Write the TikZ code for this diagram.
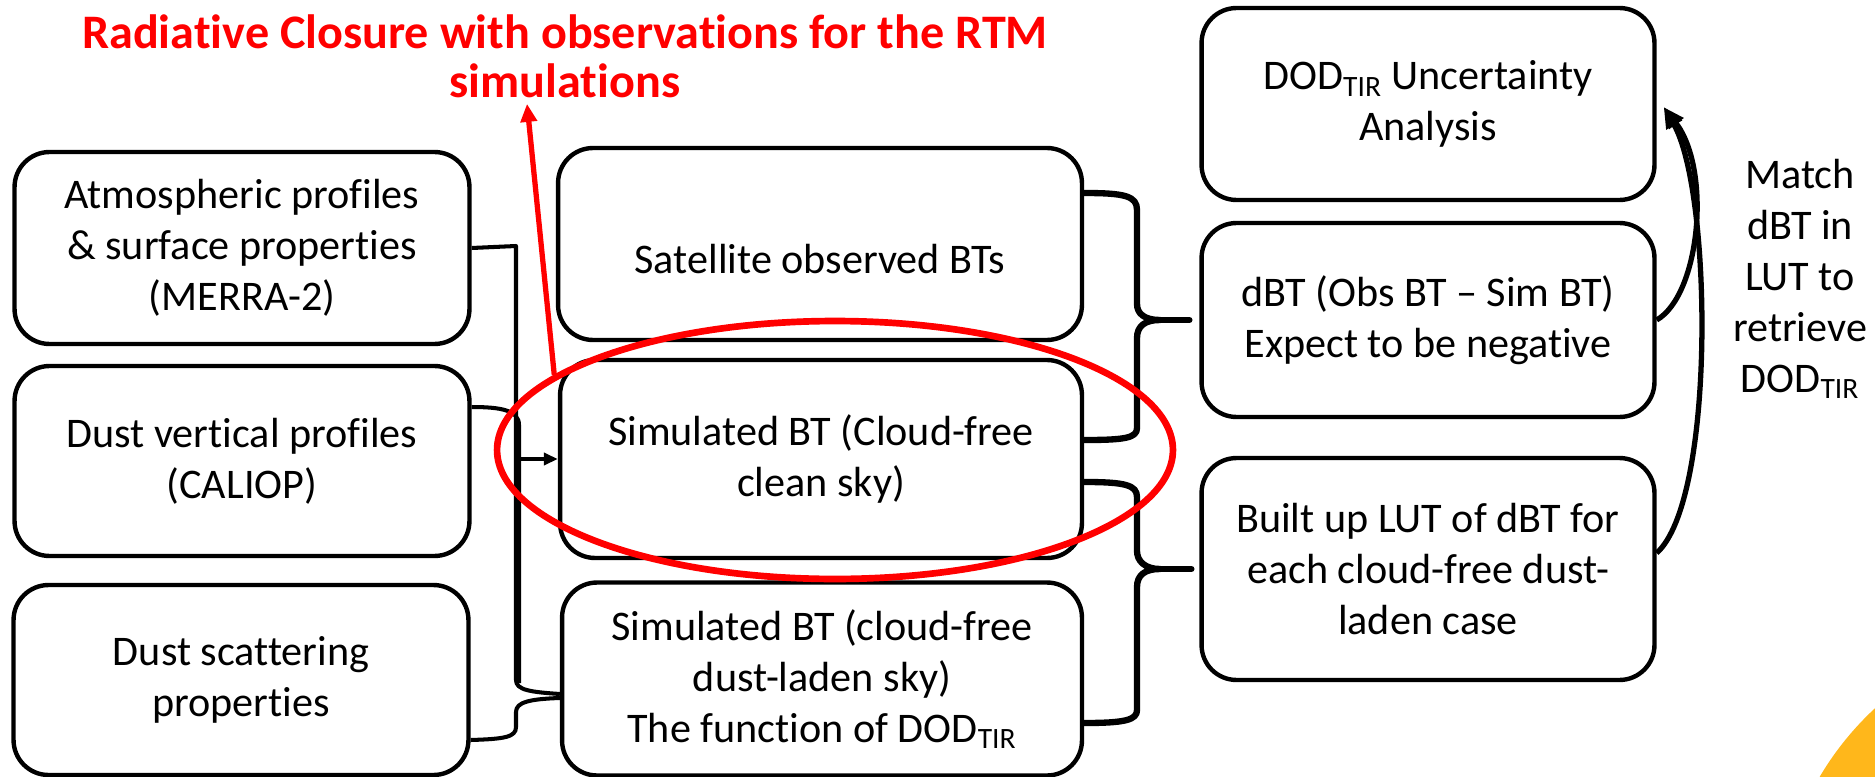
\documentclass[tikz,border=0pt]{standalone}
\usepackage{fontspec}
\setmainfont[Ligatures=NoCommon]{Carlito}
\usetikzlibrary{arrows.meta,shapes.geometric}
\definecolor{closurered}{HTML}{FF0000}
\definecolor{cornergold}{HTML}{FFB71B}

\tikzset{
  box/.style={draw, rounded corners=0.7cm, line width=2.5pt, align=center, inner sep=0pt},
  link/.style={line width=2.3pt, line join=round},
  brace/.style={line width=3.6pt, line join=round, line cap=round},
}

\begin{document}
\begin{tikzpicture}[x=0.02cm, y=-0.02cm, font={\fontsize{24}{29}\selectfont}]
  \useasboundingbox (0,0) rectangle (1875,777);
  \begin{scope}
    \clip (0,0) rectangle (1875,777);
    \fill[cornergold] (2080,930) circle[radius=302];
  \end{scope}

  % title
  \node[text=closurered, align=center, font={\bfseries\fontsize{27.4}{28}\selectfont}] (title) at (565,56)
    {Radiative Closure with observations for the RTM\\simulations};

  % inputs
  \node[box, minimum width=9.1cm, minimum height=3.84cm] (atm) at (242,248)
    {Atmospheric profiles\\\& surface properties\\(MERRA-2)};
  \node[box, minimum width=9.1cm, minimum height=3.8cm] (dvp) at (242,461)
    {Dust vertical profiles\\(CALIOP)};
  \node[box, minimum width=9.1cm, minimum height=3.8cm] (dsp) at (241,680)
    {Dust scattering\\properties};

  % brightness temperatures
  \node[box, minimum width=10.48cm, minimum height=3.84cm] (obs) at (820,244)
    {\rule{0pt}{1.2cm}Satellite observed BTs};
  \node[box, minimum width=10.44cm, minimum height=3.96cm] (clean) at (821,459)
    {Simulated BT (Cloud-free\\clean sky)};
  \node[box, minimum width=10.4cm, minimum height=3.86cm] (dusty) at (822,679)
    {Simulated BT (cloud-free\\dust-laden sky)\\The function of DOD\textsubscript{TIR}};

  % retrieval
  \node[box, minimum width=9.06cm, minimum height=3.84cm] (unc) at (1428,104)
    {DOD\textsubscript{TIR} Uncertainty\\Analysis};
  \node[box, minimum width=9.06cm, minimum height=3.88cm] (dbt) at (1428,320)
    {dBT (Obs BT -- Sim BT)\\Expect to be negative};
  \node[box, minimum width=9.06cm, minimum height=4.44cm] (lut) at (1428,569)
    {Built up LUT of dBT for\\each cloud-free dust-\\laden case};
  \node[align=center] (match) at (1800,279)
    {Match\\dBT in\\LUT to\\retrieve\\DOD\textsubscript{TIR}};

  % inputs into the RTM
  \coordinate (trunk) at (516,246);
  \draw[link] (atm.east) -- (trunk) -- (516,680)
    .. controls (516,690) and (530,692) .. ([yshift=-0.3cm]dusty.west);
  \draw[link] ([yshift=1.08cm]dvp.east) .. controls (500,407) and (519,410) .. (519,425) -- (519,683);
  \draw[link] ([yshift=-1.2cm]dsp.east) .. controls (505,739) and (516,737) .. (516,727) -- (516,712)
    .. controls (516,702) and (530,699) .. ([yshift=-0.38cm]dusty.west);
  \draw[link, -{Triangle[length=0.28cm,width=0.24cm]}] (clean.west -| trunk) -- (clean.west);

  % braces into dBT and LUT
  \draw[brace] ([yshift=1.02cm]obs.east) .. controls (1125,193) and (1137,196) .. (1137,210) -- (1137,304)
    .. controls (1137,314) and (1145,320) .. (1160,320)
    .. controls (1145,320) and (1137,326) .. (1137,338) -- (1137,428)
    .. controls (1137,438) and (1125,440) .. ([yshift=0.38cm]clean.east);
  \draw[brace] (1160,320) -- ([xshift=-0.2cm]dbt.west);
  \draw[brace] ([yshift=-0.46cm]clean.east) .. controls (1125,482) and (1137,485) .. (1137,497) -- (1137,551)
    .. controls (1137,561) and (1145,569) .. (1160,569)
    .. controls (1145,569) and (1137,575) .. (1137,587) -- (1137,710)
    .. controls (1137,720) and (1125,723) .. ([yshift=-0.88cm]dusty.east);
  \draw[brace] (1160,569) -- ([xshift=-0.16cm]lut.west);

  % back up to the uncertainty analysis
  \coordinate (hit) at ([xshift=0.14cm,yshift=-0.06cm]unc.east);
  \draw[link, line width=3pt, -{Triangle[length=0.42cm,width=0.34cm]}] (dbt.east) .. controls (1700,295) and (1712,170) .. (hit);
  \draw[link, line width=3pt, -{Triangle[length=0.42cm,width=0.34cm]}] ([yshift=0.32cm]lut.east) .. controls (1716,500) and (1712,190) .. (hit);

  % highlight of the clean sky run
  \node[draw=closurered, ellipse, line width=3.8pt, minimum width=13.52cm, minimum height=5.16cm, inner sep=0pt] (focus) at (835,450) {};
  \draw[closurered, line width=3pt, -{Triangle[length=0.36cm,width=0.32cm]}] (focus.165) -- ([xshift=-0.76cm]title.south);
\end{tikzpicture}
\end{document}
